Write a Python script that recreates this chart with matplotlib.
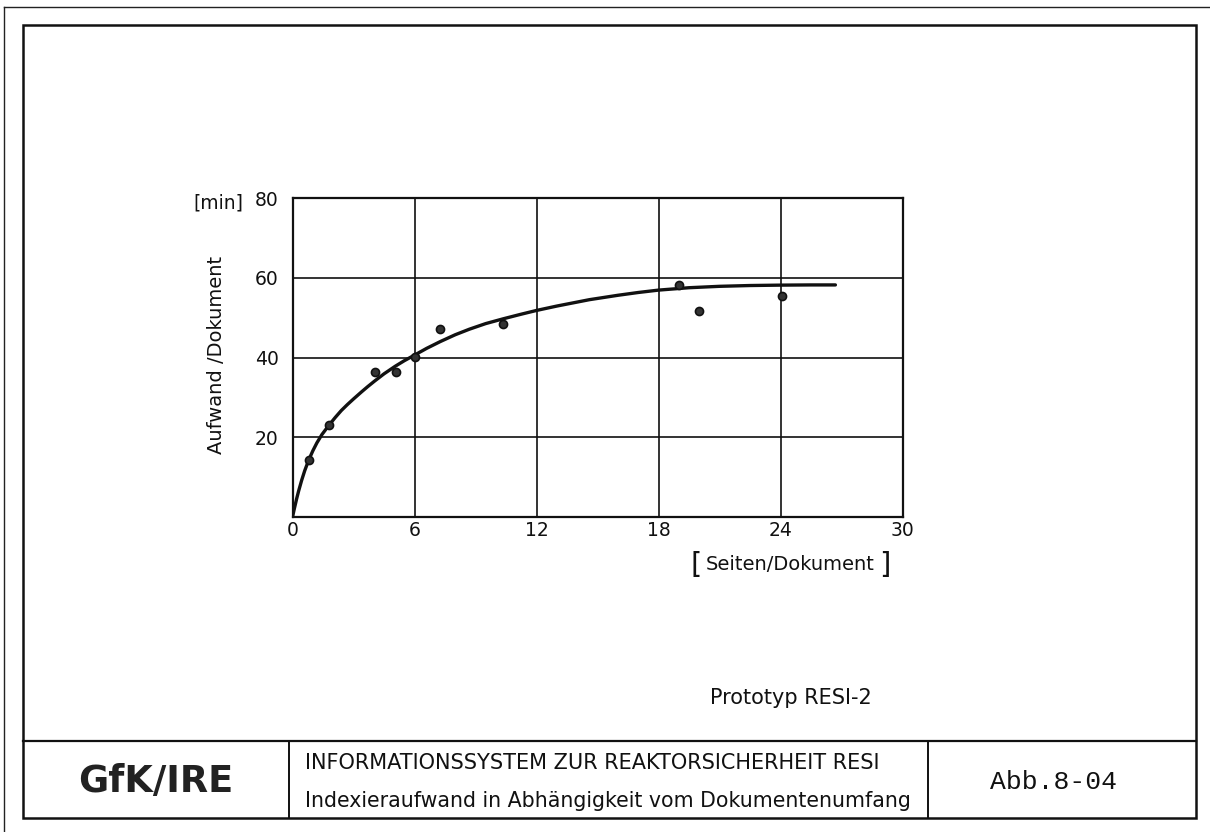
import matplotlib
matplotlib.use("Agg")
import matplotlib.pyplot as plt
from matplotlib.patches import Rectangle
from matplotlib.lines import Line2D

# ---- data ----
pages = [0.8, 1.8, 4.05, 5.1, 6.0, 7.25, 10.35, 19.0, 20.0, 24.05]
minutes = [14.2, 23.0, 36.4, 36.3, 40.2, 47.1, 48.5, 58.2, 51.6, 55.4]

curve_pages = [0.0, 0.1, 0.2, 0.3, 0.45, 0.6, 0.79, 1.0, 1.2, 1.45, 1.79, 2.1,
               2.4, 2.7, 3.0, 3.4, 3.7, 4.04, 4.5, 5.05, 5.5, 6.0, 6.6, 7.27,
               8.0, 8.7, 9.5, 10.36, 11.2, 12.0, 13.0, 14.6, 16.0, 17.0, 18.0,
               19.5, 21.0, 22.5, 24.0, 25.5, 26.7]
curve_minutes = [0.0, 2.3, 4.5, 6.5, 9.2, 11.6, 14.2, 16.6, 18.6, 20.7, 23.0, 24.95,
                 26.7, 28.2, 29.6, 31.4, 32.7, 34.1, 35.9, 37.8, 39.2, 40.6, 42.3, 44.0,
                 45.7, 47.1, 48.5, 49.7, 50.8, 51.8, 52.9, 54.5, 55.6, 56.3, 56.9,
                 57.5, 57.85, 58.05, 58.15, 58.2, 58.2]

x_ticks = [0, 6, 12, 18, 24, 30]
y_ticks = [20, 40, 60, 80]

W, H = 1210, 832
fig = plt.figure(figsize=(W / 100, H / 100), dpi=100)
fig.patch.set_facecolor("white")


def fx(px):
    return px / W


def fy(py):
    return 1 - py / H


# ---- axes ----
left, right, top, bottom = 292.5, 902.5, 198, 517
ax = fig.add_axes([fx(left), fy(bottom), (right - left) / W, (bottom - top) / H])
ax.set_xlim(0, 30)
ax.set_ylim(0, 80)
ax.set_xticks(x_ticks)
ax.set_yticks(y_ticks)
ax.set_xticklabels([str(v) for v in x_ticks])
ax.set_yticklabels([str(v) for v in y_ticks])
ax.tick_params(length=0, labelsize=13.5, pad=3, colors="#111111")
ax.tick_params(axis="y", pad=10)
for s in ax.spines.values():
    s.set_linewidth(1.6)
    s.set_color("#111111")
ax.grid(True, color="#111111", linewidth=1.2)
ax.set_axisbelow(True)

ax.plot(curve_pages, curve_minutes, color="#111111", linewidth=2.4,
        solid_capstyle="round", solid_joinstyle="round", zorder=3)
ax.plot(pages, minutes, linestyle="none", marker="o", markersize=5.8,
        markerfacecolor="#333333", markeredgecolor="#111111",
        markeredgewidth=1.2, zorder=4)

# axis texts
fig.text(fx(218), fy(203), "[min]", fontsize=13.5, ha="center", va="center",
         color="#111111")
fig.text(fx(217), fy(355), "Aufwand /Dokument", fontsize=14, rotation=90,
         ha="center", va="center", color="#111111")
fig.text(fx(790), fy(565), "Seiten/Dokument", fontsize=14, ha="center",
         va="center", color="#111111")
fig.text(fx(696), fy(565), "[", fontsize=21, ha="center", va="center",
         color="#111111")
fig.text(fx(885), fy(565), "]", fontsize=21, ha="center", va="center",
         color="#111111")

fig.text(fx(791), fy(698), "Prototyp RESI-2", fontsize=15, ha="center",
         va="center", color="#111111")

# ---- page frames ----
fig.add_artist(Line2D([fx(4), fx(1210)], [fy(7), fy(7)], color="#222222",
                      linewidth=1.0, transform=fig.transFigure))
fig.add_artist(Line2D([fx(4), fx(4)], [fy(7), fy(832)], color="#222222",
                      linewidth=1.0, transform=fig.transFigure))
fig.add_artist(Rectangle((fx(23), fy(818)), (1196 - 23) / W, (818 - 25) / H,
                         fill=False, edgecolor="#111111", linewidth=1.8,
                         transform=fig.transFigure))
# title block
fig.add_artist(Line2D([fx(23), fx(1196)], [fy(741), fy(741)], color="#111111",
                      linewidth=1.6, transform=fig.transFigure))
fig.add_artist(Line2D([fx(289), fx(289)], [fy(741), fy(818)], color="#111111",
                      linewidth=1.4, transform=fig.transFigure))
fig.add_artist(Line2D([fx(928), fx(928)], [fy(741), fy(818)], color="#111111",
                      linewidth=1.4, transform=fig.transFigure))

fig.text(fx(156), fy(781), "GfK/IRE", fontsize=26.5, fontweight="bold",
         ha="center", va="center", color="#222222")
fig.text(fx(305), fy(763), "INFORMATIONSSYSTEM ZUR REAKTORSICHERHEIT RESI",
         fontsize=15, ha="left", va="center", color="#111111")
fig.text(fx(305), fy(801), "Indexieraufwand in Abhängigkeit vom Dokumentenumfang",
         fontsize=14.8, ha="left", va="center", color="#111111")
fig.text(fx(1053), fy(782), "Abb.8-04", fontsize=19, family="Liberation Mono",
         ha="center", va="center", color="#111111")

fig.savefig("out.png", dpi=100, facecolor="white")
